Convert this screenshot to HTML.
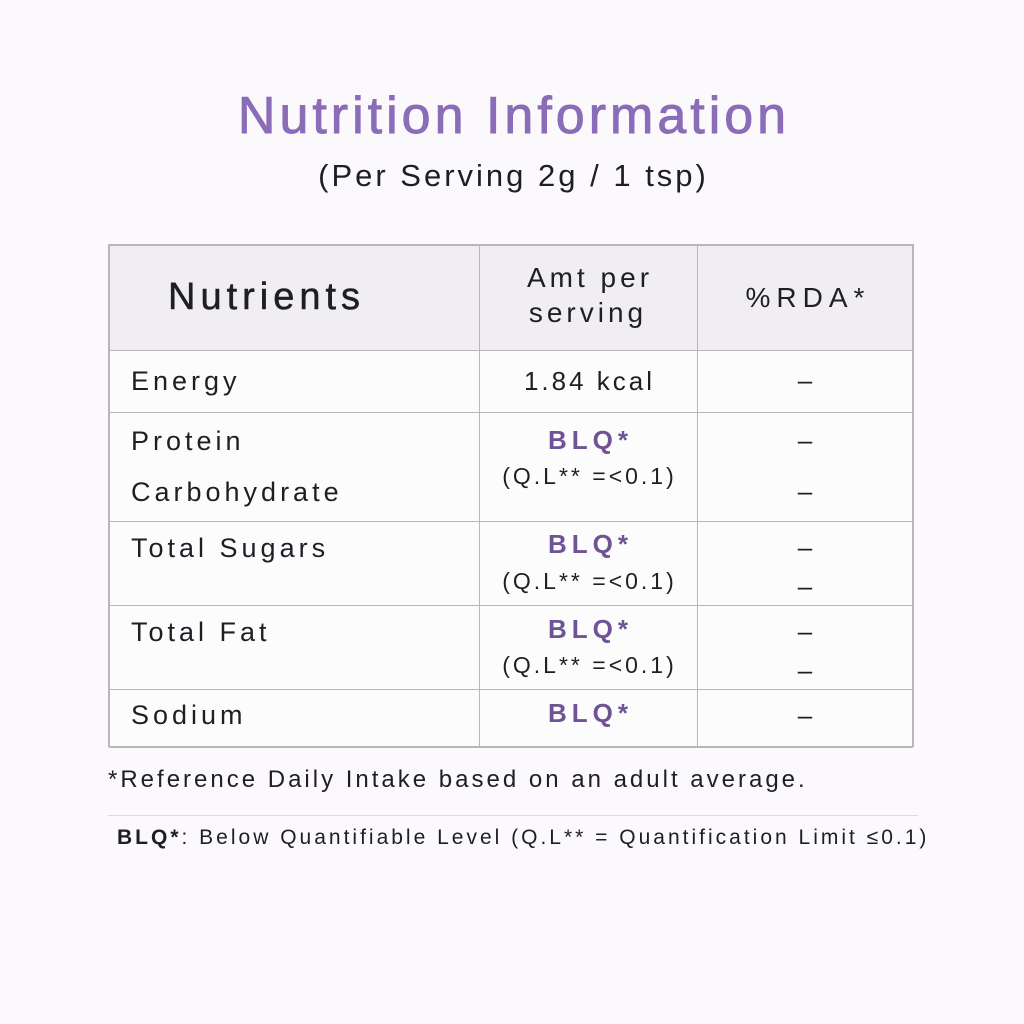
<!DOCTYPE html>
<html><head><meta charset="utf-8"><style>
body{margin:0;width:1024px;height:1024px;background:#fbf9fb;font-family:"Liberation Sans",sans-serif;color:#1e1e24;position:relative;overflow:hidden}
.a{position:absolute;white-space:nowrap}
.c{text-align:center}
.p{color:#6e5496;font-weight:bold;letter-spacing:5px;text-indent:5px}
.q{letter-spacing:3px;text-indent:3px}
.d{letter-spacing:0}
.n{letter-spacing:4px}
.h{position:absolute;left:109px;width:804px;height:1px;background:#b8b6ba}
.v{position:absolute;top:244px;height:503px;width:1px;background:#b8b6ba}
</style></head><body>
<div class="a c" style="left:0;width:1024px;top:86px;font-size:52px;color:#8b6cb8;letter-spacing:4px;text-indent:4px;-webkit-text-stroke:0.9px #8b6cb8">Nutrition Information</div>
<div class="a c" style="left:0;width:1024px;top:158px;font-size:31px;letter-spacing:3px;text-indent:3px">(Per Serving 2g / 1 tsp)</div>
<div class="a" style="left:109px;top:244px;width:804px;height:106px;background:#f0eef0"></div>
<div class="a" style="left:109px;top:350px;width:804px;height:397px;background:#fdfcfd"></div>
<div class="h" style="top:244px;height:2px"></div>
<div class="h" style="top:350px"></div>
<div class="h" style="top:412px"></div>
<div class="h" style="top:521px"></div>
<div class="h" style="top:605px"></div>
<div class="h" style="top:689px"></div>
<div class="h" style="top:746px;height:2px"></div>
<div class="v" style="left:108px;width:2px"></div>
<div class="v" style="left:479px"></div>
<div class="v" style="left:697px"></div>
<div class="v" style="left:912px;width:2px"></div>
<div class="a" style="left:168px;top:276px;font-size:38px;letter-spacing:5px;-webkit-text-stroke:0.5px #1e1e24">Nutrients</div>
<div class="a c" style="left:479px;width:218px;top:260px;font-size:28px;line-height:35px;letter-spacing:4px;text-indent:4px">Amt per<br>serving</div>
<div class="a c" style="left:697px;width:216px;top:282px;font-size:28px;letter-spacing:6px;text-indent:6px">%RDA*</div>
<div class="a n" style="left:131px;top:366px;font-size:27px;">Energy</div>
<div class="a n" style="left:131px;top:426px;font-size:27px;">Protein</div>
<div class="a n" style="left:131px;top:477px;font-size:27px;">Carbohydrate</div>
<div class="a n" style="left:131px;top:533px;font-size:27px;">Total Sugars</div>
<div class="a n" style="left:131px;top:617px;font-size:27px;">Total Fat</div>
<div class="a n" style="left:131px;top:700px;font-size:27px;">Sodium</div>
<div class="a c q" style="left:479px;width:218px;top:366px;font-size:26px;">1.84 kcal</div>
<div class="a c p" style="left:479px;width:218px;top:425px;font-size:26px;">BLQ*</div>
<div class="a c q" style="left:479px;width:218px;top:463px;font-size:23px;">(Q.L** =&lt;0.1)</div>
<div class="a c p" style="left:479px;width:218px;top:529px;font-size:26px;">BLQ*</div>
<div class="a c q" style="left:479px;width:218px;top:568px;font-size:23px;">(Q.L** =&lt;0.1)</div>
<div class="a c p" style="left:479px;width:218px;top:614px;font-size:26px;">BLQ*</div>
<div class="a c q" style="left:479px;width:218px;top:652px;font-size:23px;">(Q.L** =&lt;0.1)</div>
<div class="a c p" style="left:479px;width:218px;top:698px;font-size:26px;">BLQ*</div>
<div class="a c" style="left:697px;width:216px;top:365px;font-size:26px;">–</div>
<div class="a c" style="left:697px;width:216px;top:425px;font-size:26px;">–</div>
<div class="a c" style="left:697px;width:216px;top:476px;font-size:26px;">–</div>
<div class="a c" style="left:697px;width:216px;top:532px;font-size:26px;">–</div>
<div class="a c" style="left:697px;width:216px;top:571px;font-size:26px;">–</div>
<div class="a c" style="left:697px;width:216px;top:616px;font-size:26px;">–</div>
<div class="a c" style="left:697px;width:216px;top:655px;font-size:26px;">–</div>
<div class="a c" style="left:697px;width:216px;top:700px;font-size:26px;">–</div>
<div class="a" style="left:108px;top:766px;font-size:24px;letter-spacing:3px">*Reference Daily Intake based on an adult average.</div>
<div class="a" style="left:108px;top:815px;width:810px;height:1px;background:#dddadd"></div>
<div class="a" style="left:117px;top:826px;font-size:21px;letter-spacing:3px"><b>BLQ*</b>: Below Quantifiable Level (Q.L** = Quantification Limit ≤0.1)</div>
</body></html>
